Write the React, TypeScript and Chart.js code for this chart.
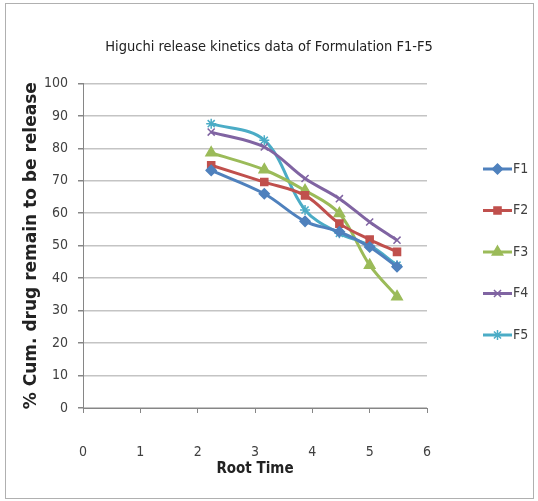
import React, { useEffect, useRef } from 'react';
import { Chart, registerables } from 'chart.js';
import { drawPoint } from 'chart.js/helpers';

Chart.register(...registerables);

// Root time (sqrt of minutes) sampled at 5, 10, 15, 20, 25, 30
const xValues = [2.236, 3.162, 3.873, 4.472, 5.0, 5.477];
const seriesNames = ['F1', 'F2', 'F3', 'F4', 'F5'];
const f1 = [73.2, 66.0, 57.5, 54.3, 49.6, 43.5];
const f2 = [74.8, 69.6, 65.5, 56.8, 51.9, 48.1];
const f3 = [78.6, 73.4, 67.0, 59.9, 44.0, 34.3];
const f4 = [85.0, 80.4, 70.7, 64.5, 57.3, 51.7];
const f5 = [87.6, 82.5, 61.0, 53.8, 50.1, 44.0];
const seriesValues = [f1, f2, f3, f4, f5];
const seriesColors = ['#4F81BD', '#C0504D', '#9BBB59', '#8064A2', '#4BACC6'];
const seriesMarkers = ['rectRot', 'rect', 'triangle', 'crossRot', 'star'];
const seriesMarkerSizes = [5, 5, 6, 5, 5];
const yTickValues = [0, 10, 20, 30, 40, 50, 60, 70, 80, 90, 100];
const xTickValues = [0, 1, 2, 3, 4, 5, 6];

const narrow = "'Liberation Sans Narrow', 'DejaVu Sans Condensed', sans-serif";

const frameAndLegend = {
  id: 'frameAndLegend',
  beforeDraw(chart: any) {
    const ctx = chart.ctx;
    ctx.save();
    ctx.fillStyle = '#ffffff';
    ctx.fillRect(0, 0, chart.width, chart.height);
    ctx.strokeStyle = '#b0b0b0';
    ctx.lineWidth = 1;
    ctx.strokeRect(5.5, 3.5, chart.width - 10, chart.height - 6);
    ctx.restore();
  },
  afterDraw(chart: any) {
    const ctx = chart.ctx;
    const area = chart.chartArea;
    const x0 = area.right + 56;
    const top = 169;
    const step = 41.5;
    chart.data.datasets.forEach((ds: any, i: number) => {
      const y = top + i * step;
      ctx.save();
      ctx.strokeStyle = ds.borderColor;
      ctx.lineWidth = 3;
      ctx.beginPath();
      ctx.moveTo(x0, y);
      ctx.lineTo(x0 + 29, y);
      ctx.stroke();
      ctx.fillStyle = ds.pointBackgroundColor;
      ctx.strokeStyle = ds.pointBorderColor;
      ctx.lineWidth = 1.5;
      drawPoint(ctx, { pointStyle: ds.pointStyle, radius: ds.pointRadius, rotation: 0, borderWidth: 1.5 } as any, x0 + 14.5, y);
      ctx.fillStyle = '#404040';
      ctx.font = `14px ${narrow}`;
      ctx.textAlign = 'left';
      ctx.textBaseline = 'middle';
      ctx.fillText(ds.label, x0 + 30, y);
      ctx.restore();
    });
  },
};

export default function App() {
  const ref = useRef<HTMLCanvasElement | null>(null);

  useEffect(() => {
    document.body.style.margin = '0';
    const canvas = ref.current;
    if (!canvas) return;
    const datasets = seriesNames.map((name, i) => ({
      label: name,
      data: xValues.map((x, j) => ({ x, y: seriesValues[i][j] })),
      borderColor: seriesColors[i],
      backgroundColor: seriesColors[i],
      pointBackgroundColor: seriesColors[i],
      pointBorderColor: seriesColors[i],
      pointStyle: seriesMarkers[i],
      pointRadius: seriesMarkerSizes[i],
      pointBorderWidth: 1.5,
      borderWidth: 3,
      showLine: true,
      tension: 0.35,
      fill: false,
    }));

    const chart = new Chart(canvas, {
      type: 'scatter',
      data: { datasets } as any,
      plugins: [frameAndLegend],
      options: {
        responsive: false,
        animation: false,
        devicePixelRatio: 1,
        layout: { padding: { left: 0, right: 0, top: 0, bottom: 0 } },
        plugins: {
          legend: { display: false },
          tooltip: { enabled: false },
          title: {
            display: true,
            text: 'Higuchi release kinetics data of Formulation F1-F5',
            color: '#222222',
            font: { family: narrow, size: 14.5, weight: 'normal' },
            padding: { top: 39, bottom: 27 },
          },
        },
        scales: {
          x: {
            type: 'linear',
            min: 0,
            max: 6,
            afterFit(scale: any) { scale.height = 93; },
            afterBuildTicks(scale: any) { scale.ticks = xTickValues.map((v) => ({ value: v })); },
            grid: { drawOnChartArea: false, drawTicks: true, tickLength: 5, color: '#868686', lineWidth: 1 },
            border: { display: true, color: '#868686', width: 1 },
            ticks: { color: '#404040', font: { family: narrow, size: 14 }, padding: 31, maxRotation: 0 },
            title: {
              display: true,
              text: 'Root Time',
              color: '#222222',
              font: { family: narrow, size: 15, weight: 'bold' },
              padding: { top: 0, bottom: 23 },
            },
          },
          y: {
            type: 'linear',
            min: 0,
            max: 100,
            afterFit(scale: any) { scale.width = 83; },
            afterBuildTicks(scale: any) { scale.ticks = yTickValues.map((v) => ({ value: v })); },
            grid: { color: '#c4c4c4', lineWidth: 1.5, tickLength: 5, tickColor: '#868686' } as any,
            border: { display: true, color: '#868686', width: 1 },
            ticks: { color: '#404040', font: { family: narrow, size: 14 }, padding: 10 },
            title: {
              display: true,
              text: '% Cum. drug remain to be release',
              color: '#222222',
              font: { family: "'DejaVu Sans', sans-serif", size: 17, weight: 'bold' },
              padding: { top: 21, bottom: 0 },
            },
          },
          legendSpace: {
            type: 'linear',
            position: 'right',
            min: 0,
            max: 1,
            display: true,
            afterFit(scale: any) { scale.width = 111; },
            grid: { display: false, drawOnChartArea: false },
            border: { display: false },
            ticks: { display: false },
          },
        },
      } as any,
    });
    return () => chart.destroy();
  }, []);

  return (
    <div style={{ width: 538, height: 501, position: 'relative' }}>
      <canvas ref={ref} width={538} height={501} style={{ display: 'block' }} />
    </div>
  );
}
